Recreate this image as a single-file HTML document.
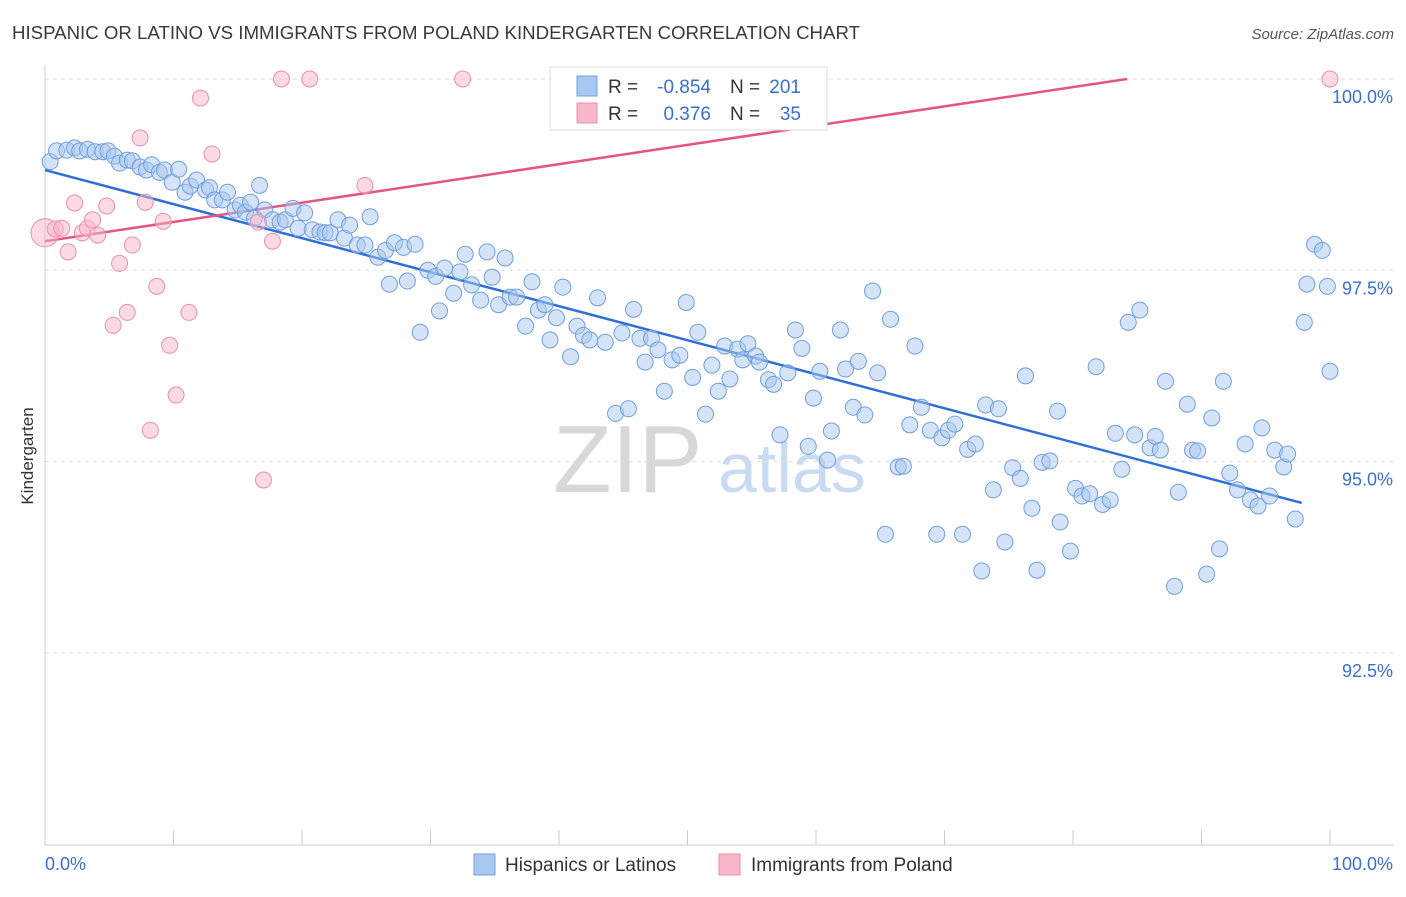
<!DOCTYPE html>
<html><head><meta charset="utf-8"><style>
body{margin:0;background:#fff;font-family:"Liberation Sans",sans-serif}
svg text{font-family:"Liberation Sans",sans-serif}
</style></head><body>
<svg id="chart" width="1406" height="892" xmlns="http://www.w3.org/2000/svg">
<text x="12" y="39" font-size="18" fill="#3a3a3a" textLength="848" lengthAdjust="spacingAndGlyphs">HISPANIC OR LATINO VS IMMIGRANTS FROM POLAND KINDERGARTEN CORRELATION CHART</text>
<text x="1394" y="39" font-size="15" fill="#555" text-anchor="end" font-style="italic">Source: ZipAtlas.com</text>
<text x="553" y="492" font-size="96" fill="#d8d8d8" font-family="Liberation Serif,serif">ZIP</text>
<text x="718" y="492" font-size="70" fill="#c9dbf3">atlas</text>
<g id="grid"></g><g id="axes"></g><g id="lines"></g><g id="pts"></g>
<text transform="translate(33,456) rotate(-90)" font-size="17" fill="#333" text-anchor="middle">Kindergarten</text>
<g>
<rect x="550" y="67" width="277" height="63" fill="#fff" stroke="#ddd"/>
<rect x="577" y="76" width="20" height="20" fill="#a9c8f0" stroke="#6f9fe0"/>
<rect x="577" y="103" width="20" height="20" fill="#f7b6c9" stroke="#e890ab"/>
<text x="608" y="93" font-size="19" fill="#333">R =</text>
<text x="711" y="93" font-size="19" fill="#3a6fd1" text-anchor="end">-0.854</text>
<text x="730" y="93" font-size="19" fill="#333">N =</text>
<text x="801" y="93" font-size="19" fill="#3a6fd1" text-anchor="end">201</text>
<text x="608" y="120" font-size="19" fill="#333">R =</text>
<text x="711" y="120" font-size="19" fill="#3a6fd1" text-anchor="end">0.376</text>
<text x="730" y="120" font-size="19" fill="#333">N =</text>
<text x="801" y="120" font-size="19" fill="#3a6fd1" text-anchor="end">35</text>
</g>
<g>
<rect x="474" y="854" width="21" height="21" fill="#a9c8f0" stroke="#6f9fe0"/>
<text x="505" y="871" font-size="19" fill="#333">Hispanics or Latinos</text>
<rect x="719" y="854" width="21" height="21" fill="#f7b6c9" stroke="#e890ab"/>
<text x="751" y="871" font-size="19" fill="#333">Immigrants from Poland</text>
</g>
</svg>
<script>
const yTicks=[100,97.5,95,92.5];
const yTickLabels=["100.0%","97.5%","95.0%","92.5%"];
const xEndLabels=["0.0%","100.0%"];
const blueX=[0.4,0.9,1.7,2.3,2.7,3.3,3.9,4.5,4.9,5.4,5.8,6.4,6.8,7.4,7.9,8.3,8.9,9.3,9.9,10.4,10.9,11.3,11.8,12.5,12.8,13.2,13.8,14.2,14.8,15.2,15.6,16.0,16.3,16.7,17.1,17.7,18.3,18.7,19.3,19.7,20.2,20.8,21.4,21.8,22.2,22.8,23.3,23.7,24.3,24.9,25.3,25.9,26.5,26.8,27.2,27.9,28.2,28.8,29.2,29.8,30.4,30.7,31.1,31.8,32.3,32.7,33.2,33.9,34.4,34.8,35.3,35.8,36.2,36.7,37.4,37.9,38.4,38.9,39.3,39.8,40.3,40.9,41.4,41.9,42.4,43.0,43.6,44.4,44.9,45.4,45.8,46.3,46.7,47.2,47.7,48.2,48.8,49.4,49.9,50.4,50.8,51.4,51.9,52.4,52.9,53.3,53.9,54.3,54.7,55.3,55.6,56.3,56.7,57.2,57.8,58.4,58.9,59.4,59.8,60.3,60.9,61.2,61.9,62.3,62.9,63.3,63.8,64.4,64.8,65.4,65.8,66.4,66.8,67.3,67.7,68.2,68.9,69.4,69.8,70.3,70.8,71.4,71.8,72.4,72.9,73.2,73.8,74.2,74.7,75.3,75.9,76.3,76.8,77.2,77.6,78.2,78.8,79.0,79.8,80.2,80.7,81.3,81.8,82.3,82.9,83.3,83.8,84.3,84.8,85.2,86.0,86.4,86.8,87.2,87.9,88.2,88.9,89.3,89.7,90.4,90.8,91.4,91.7,92.2,92.8,93.4,93.8,94.4,94.7,95.3,95.7,96.4,96.7,97.3,98.0,98.2,98.8,99.4,99.8,100];
const blueY=[98.92,99.06,99.07,99.10,99.06,99.08,99.05,99.05,99.06,98.99,98.90,98.94,98.93,98.85,98.81,98.88,98.78,98.81,98.65,98.82,98.52,98.60,98.68,98.55,98.58,98.42,98.42,98.52,98.29,98.35,98.26,98.39,98.18,98.61,98.29,98.16,98.13,98.16,98.31,98.05,98.25,98.03,98.00,97.99,97.99,98.16,97.92,98.09,97.83,97.83,98.20,97.67,97.76,97.32,97.86,97.80,97.36,97.84,96.69,97.50,97.42,96.97,97.53,97.20,97.48,97.71,97.31,97.11,97.74,97.41,97.05,97.66,97.15,97.15,96.77,97.35,96.98,97.05,96.59,96.88,97.28,96.37,96.77,96.65,96.59,97.14,96.56,95.63,96.68,95.69,96.99,96.61,96.30,96.61,96.46,95.92,96.33,96.39,97.08,96.10,96.69,95.62,96.26,95.92,96.51,96.08,96.47,96.33,96.54,96.38,96.30,96.07,96.01,95.35,96.16,96.72,96.48,95.20,95.83,96.18,95.02,95.40,96.72,96.21,95.71,96.31,95.61,97.23,96.16,94.05,96.86,94.93,94.94,95.48,96.51,95.71,95.41,94.05,95.31,95.41,95.49,94.05,95.16,95.23,93.57,95.74,94.63,95.69,93.95,94.92,94.78,96.12,94.39,93.58,94.99,95.01,95.66,94.21,93.83,94.65,94.55,94.58,96.24,94.44,94.50,95.37,94.90,96.82,95.35,96.98,95.18,95.33,95.15,96.05,93.37,94.60,95.75,95.15,95.14,93.53,95.57,93.86,96.05,94.85,94.63,95.23,94.50,94.42,95.44,94.55,95.15,94.93,95.10,94.25,96.82,97.32,97.84,97.76,97.29,96.18];
const pinkX=[0,0.8,1.3,1.8,2.3,2.9,3.3,3.7,4.1,4.8,5.3,5.8,6.4,6.8,7.4,7.8,8.2,8.7,9.2,9.7,10.2,11.2,12.1,13.0,16.6,17.0,17.7,18.4,20.6,24.9,32.5,100];
const pinkY=[97.99,98.04,98.05,97.74,98.38,97.99,98.05,98.16,97.96,98.34,96.78,97.59,96.95,97.83,99.23,98.39,95.41,97.29,98.14,96.52,95.87,96.95,99.75,99.02,98.13,94.76,97.88,100,100,98.61,100,100];
const blueTrend=[[0,98.81],[97.8,94.46]];
const pinkTrend=[[0,97.88],[84.2,100]];
const NS="http://www.w3.org/2000/svg";
const X=v=>45+v*12.85, Y=v=>79+(100-v)*76.52;
function mk(tag,attrs,parent){const e=document.createElementNS(NS,tag);for(const k in attrs)e.setAttribute(k,attrs[k]);document.getElementById(parent).appendChild(e);return e;}
yTicks.forEach((t,i)=>{
 const l=mk('line',{x1:45,x2:1394,y1:Y(t),y2:Y(t),stroke:'#ddd','stroke-dasharray':'4,4'},'grid');
 
 
 const tx=mk('text',{x:1393,y:Y(t)+24,'font-size':18,fill:'#3a6fd1','text-anchor':'end'},'grid');tx.textContent=yTickLabels[i];
 
 
});
const ax=mk('line',{x1:45,x2:1394,y1:845,y2:845,stroke:'#ccc'},'axes');


const ay=mk('line',{x1:45,x2:45,y1:65,y2:845,stroke:'#ccc'},'axes');


for(let i=0;i<=10;i++){const t=mk('line',{x1:X(i*10),x2:X(i*10),y1:830,y2:845,stroke:'#ccc'},'axes');
 
 }
[[0,'start',0],[100,'end',63]].forEach((p,i)=>{const t=mk('text',{x:X(p[0])+p[2],y:870,'font-size':18,fill:'#3a6fd1','text-anchor':p[1]},'axes');t.textContent=xEndLabels[i];
 
 });
for(let i=0;i<blueX.length;i++){const c=mk('circle',{cx:X(blueX[i]),cy:Y(blueY[i]),r:8,fill:'rgba(169,200,240,0.5)',stroke:'#6f9fe0','stroke-width':1},'pts');
 
 }
for(let i=0;i<pinkX.length;i++){const c=mk('circle',{cx:X(pinkX[i]),cy:Y(pinkY[i]),r:i===0?14:8,fill:'rgba(247,182,201,0.5)',stroke:'#e890ab','stroke-width':1},'pts');
 
 }
const bl=mk('line',{x1:X(blueTrend[0][0]),y1:Y(blueTrend[0][1]),x2:X(blueTrend[1][0]),y2:Y(blueTrend[1][1]),stroke:'#2e6fd8','stroke-width':2.5},'lines');


const pl=mk('line',{x1:X(pinkTrend[0][0]),y1:Y(pinkTrend[0][1]),x2:X(pinkTrend[1][0]),y2:Y(pinkTrend[1][1]),stroke:'#e5557f','stroke-width':2.5},'lines');


</script>
</body></html>
